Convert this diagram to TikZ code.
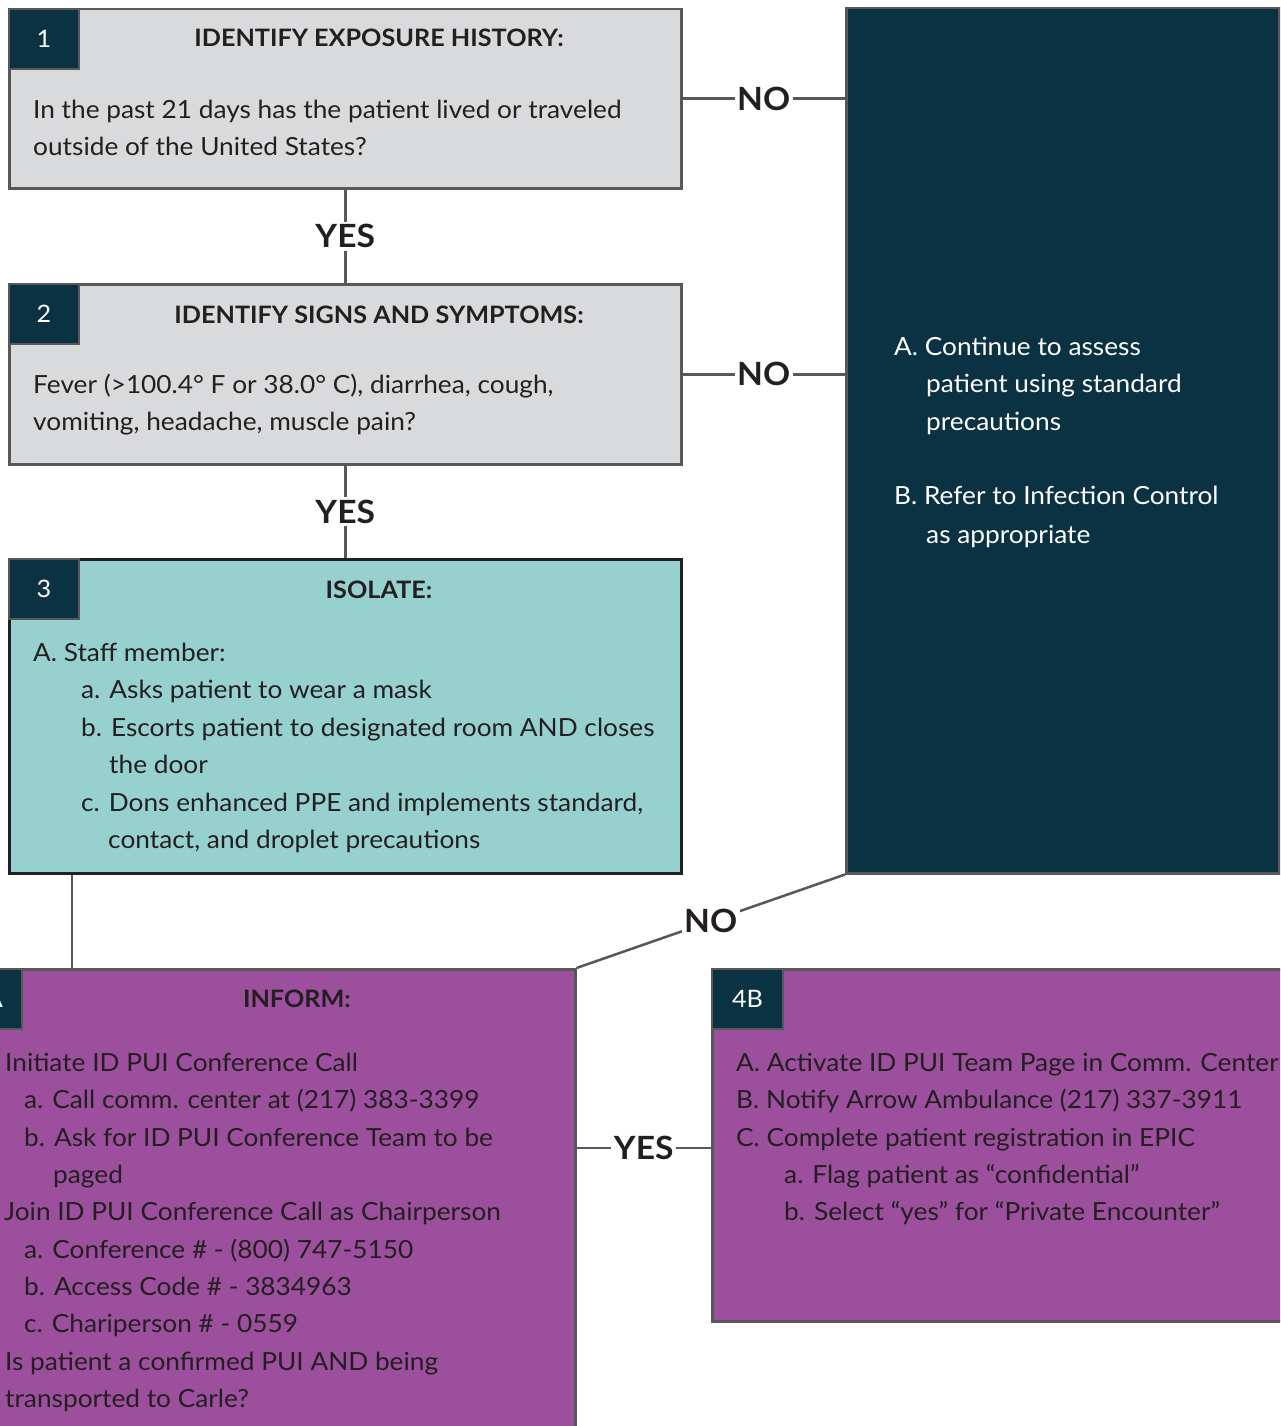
\documentclass[tikz,border=0pt]{standalone}
\usepackage{fontspec}
\setmainfont{Lato}[FakeStretch=1.05]
\definecolor{boxg}{HTML}{D9DADC}
\definecolor{lineg}{HTML}{58585A}
\definecolor{navy}{HTML}{0B3243}
\definecolor{teal3}{HTML}{96D1D0}
\definecolor{purp}{HTML}{9B4F9C}
\definecolor{ink}{HTML}{231F20}
\tikzset{
  x=1pt, y=-1pt,
  boxbase/.style={line width=2.5pt, inner sep=0pt, anchor=north west, minimum width=672pt},
  gbox/.style={boxbase, draw=lineg, fill=boxg},
  tbox/.style={boxbase, draw=ink, fill=teal3},
  pbox/.style={boxbase, draw=lineg, fill=purp},
  panel/.style={line width=2.5pt, inner sep=0pt, anchor=north west, draw=lineg, fill=navy},
  badge/.style={draw=lineg, line width=2pt, fill=navy, text=white, anchor=north west,
    minimum width=70pt, minimum height=60pt, inner sep=0pt,
    font=\fontsize{24}{28}\selectfont},
  ttl/.style={anchor=base, inner sep=0pt, text=ink, font=\fontsize{24}{28}\selectfont\bfseries},
  body/.style={anchor=base west, inner sep=0pt, text=ink, font=\fontsize{25}{30}\selectfont},
  wbody/.style={body, text=white},
  conn/.style={draw=lineg, line width=2.5pt},
  lbl/.style={fill=white, inner sep=2.5pt, text=ink, font=\fontsize{32}{36}\selectfont\bfseries},
}
\begin{document}
\begin{tikzpicture}
\useasboundingbox (0,0) rectangle (1280,1426);
\clip (0,0) rectangle (1280,1426);
\fill[white] (0,0) rectangle (1280,1426);

% Box 1
\node[gbox, minimum height=179pt] (b1) at (8,8) {};
\node[badge] (n1) at (8,8) {1};
\node[ttl] (h1) at (379,47) {IDENTIFY EXPOSURE HISTORY:};
\node[body] (t1a) at (33,118) {In the past 21 days has the patient lived or traveled};
\node[body] (t1b) at (33,155) {outside of the United States?};

% Box 2
\node[gbox, minimum height=180pt] (b2) at (8,283) {};
\node[badge] (n2) at (8,283) {2};
\node[ttl] (h2) at (379,323) {IDENTIFY SIGNS AND SYMPTOMS:};
\node[body] (t2a) at (33,393) {Fever (>100.4° F or 38.0° C), diarrhea, cough,};
\node[body] (t2b) at (33,430) {vomiting, headache, muscle pain?};

% Box 3
\node[tbox, minimum height=314pt] (b3) at (8,558) {};
\node[badge] (n3) at (8,558) {3};
\node[ttl] (h3) at (379,598) {ISOLATE:};
\node[body] (t3a) at (33,661) {A. Staff member:};
\node[body] (t3b) at (81,698) {a. Asks patient to wear a mask};
\node[body] (t3c) at (81,736) {b. Escorts patient to designated room AND closes};
\node[body] (t3d) at (109,773) {the door};
\node[body] (t3e) at (81,811) {c. Dons enhanced PPE and implements standard,};
\node[body] (t3f) at (108,848) {contact, and droplet precautions};

% Right panel
\node[panel, minimum width=433pt, minimum height=865pt] (pn) at (845,7) {};
\node[wbody] (p1) at (894,355) {A. Continue to assess};
\node[wbody] (p2) at (926,392) {patient using standard};
\node[wbody] (p3) at (926,430) {precautions};
\node[wbody] (p4) at (894,504) {B. Refer to Infection Control};
\node[wbody] (p5) at (926,543) {as appropriate};

% Box 4A
\node[pbox, minimum height=560pt] (b4a) at (-98,968) {};
\node[badge] (n4a) at (-49,968) {4A};
\node[ttl] (h4a) at (297,1007) {INFORM:};
\node[body] (a1) at (5,1071) {Initiate ID PUI Conference Call};
\node[body] (a2) at (24,1108) {a. Call comm. center at (217) 383-3399};
\node[body] (a3) at (24,1146) {b. Ask for ID PUI Conference Team to be};
\node[body] (a4) at (53,1183) {paged};
\node[body] (a5) at (4,1220) {Join ID PUI Conference Call as Chairperson};
\node[body] (a6) at (24,1258) {a. Conference \# - (800) 747-5150};
\node[body] (a7) at (24,1295) {b. Access Code \# - 3834963};
\node[body] (a8) at (24,1332) {c. Chariperson \# - 0559};
\node[body] (a9) at (5,1370) {Is patient a confirmed PUI AND being};
\node[body] (a10) at (5,1407) {transported to Carle?};

% Box 4B
\node[pbox, minimum height=352pt] (b4b) at (711,968) {};
\node[badge, minimum width=71pt] (n4b) at (711,968) {4B};
\node[body] (c1) at (736,1071) {A. Activate ID PUI Team Page in Comm. Center};
\node[body] (c2) at (736,1108) {B. Notify Arrow Ambulance (217) 337-3911};
\node[body] (c3) at (736,1146) {C. Complete patient registration in EPIC};
\node[body] (c4) at (784,1183) {a. Flag patient as “confidential”};
\node[body] (c5) at (784,1220) {b. Select “yes” for “Private Encounter”};

% Connectors
\draw[conn] (b1.south) -- node[lbl] (y1) {YES} (b2.north);
\draw[conn] (b2.south) -- node[lbl] (y2) {YES} (b3.north);
\draw[conn] (b1.east) -- node[lbl] (no1) {NO} (b1.east -| pn.west);
\draw[conn] (b2.east) -- node[lbl] (no2) {NO} (b2.east -| pn.west);
\draw[conn] (pn.south west) -- node[lbl] (no3) {NO} (b4a.north east);
\coordinate (d3) at ([xshift=64pt]b3.south west);
\draw[conn] (d3) -- (d3 |- b4a.north);
\coordinate (y4s) at (b4a.east |- 0,1148);
\draw[conn] (y4s) -- node[lbl] (y4) {YES} (y4s -| b4b.west);
\end{tikzpicture}
\end{document}
